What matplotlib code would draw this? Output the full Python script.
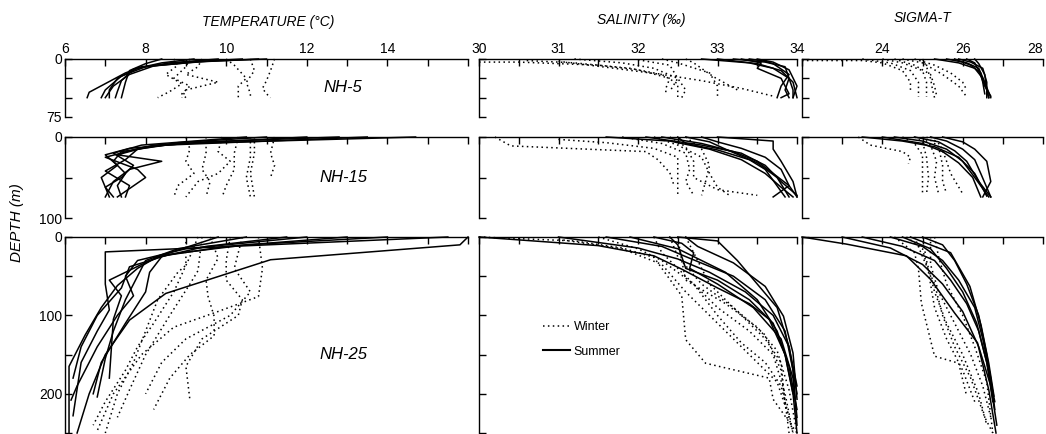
import matplotlib.pyplot as plt
from matplotlib.lines import Line2D

plt.rcParams['font.family'] = ['Liberation Sans', 'DejaVu Sans']

# each profile is a list of (value, depth in m)
# ---- temperature ----
temp_nh5_summer = [
    [(11.0, 0), (9.5, 3), (7.9, 10), (7.5, 18), (6.6, 43), (6.55, 50)],
    [(10.4, 0), (9.0, 4), (8.0, 10), (7.4, 22), (7.0, 40), (6.9, 50)],
    [(9.8, 0), (8.6, 5), (7.8, 12), (7.3, 25), (7.1, 40), (7.1, 50)],
    [(9.2, 0), (8.4, 5), (7.7, 13), (7.4, 28), (7.3, 42), (7.25, 50)],
    [(8.4, 0), (8.0, 6), (7.6, 15), (7.5, 30), (7.4, 50)],
    [(10.8, 0), (9.2, 4), (8.2, 9), (7.6, 20), (7.2, 35), (7.0, 50)],
]
temp_nh5_winter = [
    [(8.7, 0), (8.8, 8), (8.5, 20), (8.9, 32), (8.6, 42), (8.3, 50)],
    [(9.1, 0), (9.0, 10), (8.7, 25), (9.1, 35), (8.9, 45), (9.0, 50)],
    [(9.4, 0), (9.3, 10), (9.0, 20), (9.8, 30), (9.0, 40), (8.9, 50)],
    [(10.0, 0), (10.2, 8), (10.5, 25), (10.3, 35), (10.3, 50)],
    [(10.6, 0), (10.7, 15), (10.5, 30), (10.6, 45), (10.6, 50)],
    [(11.2, 0), (11.1, 15), (11.0, 28), (10.9, 38), (11.0, 45), (11.1, 50)],
]
temp_nh15_summer = [
    [(14.7, 0), (9.0, 8), (7.6, 14), (7.0, 22), (7.3, 35), (6.9, 50), (7.1, 74)],
    [(13.5, 0), (8.5, 10), (7.4, 18), (7.2, 30), (7.5, 45), (7.3, 60), (7.4, 74)],
    [(12.0, 0), (8.2, 10), (7.3, 22), (8.4, 30), (7.6, 40), (7.2, 55), (7.0, 74)],
    [(11.0, 0), (8.8, 7), (7.8, 15), (7.5, 28), (7.0, 42), (7.6, 60), (7.5, 74)],
    [(10.5, 0), (7.9, 10), (7.2, 20), (7.7, 35), (7.4, 50), (7.0, 62), (7.2, 74)],
    [(12.8, 0), (9.5, 6), (8.0, 12), (7.0, 25), (7.8, 40), (8.0, 50), (7.3, 74)],
]
temp_nh15_winter = [
    [(9.0, 0), (9.1, 15), (9.0, 30), (9.2, 45), (8.8, 60), (8.7, 74)],
    [(9.5, 0), (9.5, 20), (9.4, 40), (9.6, 55), (9.5, 74)],
    [(9.9, 0), (9.8, 18), (10.1, 30), (9.8, 45), (9.3, 55), (9.0, 74)],
    [(10.3, 0), (10.2, 20), (10.2, 40), (10.0, 60), (9.9, 74)],
    [(10.7, 0), (10.7, 20), (10.6, 45), (10.7, 74)],
    [(11.2, 0), (11.1, 20), (11.2, 35), (11.1, 50)],
    [(10.6, 0), (10.6, 25), (10.5, 50), (10.6, 74)],
]
temp_nh25_summer = [
    [(16.0, 0), (15.8, 10), (11.1, 29), (8.8, 67), (8.5, 72), (7.6, 106), (7.0, 150), (6.6, 200), (6.3, 250)],
    [(15.5, 0), (7.0, 19), (7.0, 60), (7.1, 93), (6.8, 120), (6.4, 160), (6.2, 228)],
    [(12.0, 0), (9.0, 15), (7.8, 30), (7.5, 50), (7.7, 75), (7.3, 100), (6.8, 140), (6.3, 190), (6.15, 208)],
    [(13.0, 0), (10.0, 12), (8.3, 25), (7.8, 40), (7.3, 62), (6.9, 90), (6.5, 125), (6.1, 165), (6.1, 250)],
    [(11.5, 0), (9.5, 12), (8.4, 25), (8.1, 45), (8.0, 70), (7.5, 110), (6.9, 160), (6.7, 200)],
    [(10.5, 0), (8.8, 15), (8.0, 30), (7.8, 50), (7.5, 80), (7.2, 120), (7.0, 155), (6.8, 204)],
    [(14.0, 0), (10.5, 10), (8.6, 22), (7.6, 38), (7.4, 65), (6.8, 100), (6.4, 140), (6.2, 180)],
    [(9.8, 0), (8.6, 20), (7.9, 35), (7.1, 55), (7.4, 75), (7.2, 105), (7.1, 180)],
]
temp_nh25_winter = [
    [(9.0, 0), (9.0, 36), (8.8, 45), (8.3, 80), (8.0, 120), (7.7, 160), (7.3, 200), (7.0, 250)],
    [(9.4, 0), (9.3, 43), (9.1, 60), (8.6, 100), (8.0, 150), (7.6, 195), (7.3, 230)],
    [(9.6, 0), (9.8, 27), (9.5, 55), (9.55, 76), (9.7, 101), (9.7, 126), (9.1, 150), (8.6, 180), (8.2, 220)],
    [(10.1, 0), (10.0, 30), (10.0, 55), (10.4, 80), (10.3, 100), (9.4, 130), (9.0, 165), (9.1, 208)],
    [(10.8, 0), (10.9, 40), (10.8, 76), (9.8, 95), (8.7, 115), (7.9, 150), (7.2, 200), (6.8, 247)],
    [(9.3, 0), (9.1, 25), (8.7, 70), (8.2, 110), (7.8, 140), (7.5, 170), (7.0, 210), (6.7, 240)],
    [(10.4, 0), (10.3, 20), (10.2, 40), (10.6, 70), (10.1, 100), (9.0, 130), (8.4, 160), (8.0, 200)],
]

# ---- salinity ----
sal_nh5_summer = [
    [(32.8, 0), (33.4, 5), (33.7, 12), (33.9, 25), (33.95, 40), (33.95, 50)],
    [(33.0, 0), (33.5, 6), (33.8, 15), (33.95, 30), (34.0, 50)],
    [(33.2, 0), (33.6, 4), (33.85, 10), (33.9, 25), (33.85, 40), (33.9, 50)],
    [(33.3, 0), (33.55, 5), (33.5, 12), (33.8, 25), (33.9, 45), (33.8, 50)],
    [(33.5, 0), (33.7, 4), (33.9, 14), (34.0, 35), (33.95, 50)],
    [(33.4, 0), (33.6, 3), (33.7, 6), (33.9, 20), (33.8, 35), (33.75, 50)],
]
sal_nh5_winter = [
    [(30.0, 4), (30.5, 4), (31.5, 8), (32.0, 14), (32.4, 25), (32.35, 38), (32.35, 46)],
    [(30.6, 2), (31.2, 5), (31.9, 12), (32.3, 20), (32.5, 32), (32.5, 50)],
    [(31.2, 0), (31.8, 5), (32.2, 12), (32.5, 25), (32.6, 40), (32.55, 50)],
    [(31.0, 3), (31.7, 12), (32.3, 20), (32.8, 28), (33.3, 38), (33.7, 48)],
    [(32.3, 0), (32.5, 5), (32.9, 18), (33.0, 35), (33.0, 48)],
    [(32.0, 1), (32.4, 8), (32.5, 25), (32.4, 42)],
    [(32.6, 0), (32.7, 5), (32.95, 23), (33.25, 40)],
]
sal_nh15_summer = [
    [(32.3, 0), (32.8, 8), (33.2, 18), (33.5, 30), (33.7, 45), (33.9, 60), (34.0, 74)],
    [(31.6, 0), (32.4, 5), (32.9, 15), (33.3, 28), (33.6, 45), (33.8, 62), (33.95, 74)],
    [(32.6, 0), (32.9, 6), (33.1, 15), (33.5, 32), (33.75, 50), (33.9, 74)],
    [(32.5, 0), (32.6, 8), (33.0, 16), (33.4, 28), (33.6, 40), (33.85, 74)],
    [(33.0, 0), (33.7, 5), (33.7, 15), (33.8, 30), (33.95, 55), (34.0, 74)],
    [(32.8, 0), (33.0, 6), (33.3, 14), (33.6, 25), (33.8, 40), (33.9, 60), (33.7, 74)],
    [(32.1, 0), (32.8, 10), (33.3, 20), (33.6, 35), (33.8, 55), (34.0, 72)],
]
sal_nh15_winter = [
    [(30.2, 0), (30.4, 11), (31.6, 16), (32.1, 18), (32.25, 28), (32.4, 44), (32.45, 59)],
    [(31.0, 3), (31.6, 7), (32.2, 14), (32.5, 25), (32.5, 45), (32.5, 72)],
    [(31.8, 0), (32.3, 8), (32.6, 20), (32.65, 40), (32.6, 55), (32.7, 72)],
    [(32.2, 0), (32.5, 10), (32.8, 25), (32.9, 45), (33.0, 62), (33.15, 72)],
    [(32.4, 0), (32.6, 12), (32.7, 30), (32.7, 50), (33.0, 65), (33.5, 72)],
    [(32.6, 0), (32.8, 15), (32.9, 35), (32.85, 55), (32.8, 72)],
]
sal_nh25_summer = [
    [(30.0, 0), (31.5, 11), (32.2, 24), (32.55, 41), (33.0, 65), (33.4, 85), (33.65, 105), (33.85, 150), (33.95, 200), (34.0, 250)],
    [(32.6, 0), (32.75, 12), (33.2, 33), (33.6, 63), (33.83, 101), (33.95, 148), (34.0, 207)],
    [(32.5, 0), (33.0, 5), (33.25, 30), (33.5, 60), (33.75, 90), (33.9, 140), (34.0, 190)],
    [(31.9, 0), (32.5, 15), (32.8, 30), (33.1, 45), (33.5, 80), (33.75, 120), (33.9, 165), (34.0, 220)],
    [(32.4, 0), (32.5, 10), (32.6, 40), (33.0, 55), (33.4, 80), (33.7, 110), (33.85, 150), (33.95, 200)],
    [(31.6, 0), (32.3, 12), (32.6, 25), (33.2, 50), (33.6, 80), (33.85, 120), (33.95, 170), (34.0, 240)],
    [(32.2, 0), (32.55, 8), (32.7, 20), (32.65, 40), (33.0, 60), (33.45, 90), (33.8, 130), (33.95, 180), (34.0, 230)],
    [(31.0, 0), (32.0, 14), (32.5, 28), (32.9, 45), (33.35, 70), (33.7, 100), (33.9, 140), (34.0, 200)],
]
sal_nh25_winter = [
    [(30.0, 0), (31.2, 5), (31.8, 14), (32.2, 26), (32.55, 75), (32.6, 131), (32.85, 161), (33.65, 180), (33.7, 207), (34.0, 250)],
    [(31.5, 0), (32.0, 15), (32.3, 30), (32.7, 60), (33.0, 100), (33.3, 135), (33.6, 160), (33.8, 190), (33.95, 250)],
    [(32.2, 0), (32.3, 20), (32.6, 50), (33.0, 90), (33.4, 120), (33.7, 150), (33.85, 200), (33.95, 250)],
    [(32.4, 0), (32.5, 25), (32.8, 60), (33.2, 90), (33.6, 125), (33.8, 170), (33.9, 250)],
    [(32.5, 0), (32.55, 30), (32.6, 55), (33.1, 85), (33.5, 115), (33.75, 145), (33.9, 195), (34.0, 250)],
    [(31.0, 3), (31.8, 15), (32.3, 35), (32.6, 70), (33.0, 110), (33.4, 150), (33.75, 185), (33.9, 230)],
    [(32.6, 0), (32.7, 20), (32.9, 60), (33.3, 100), (33.6, 130), (33.8, 160), (33.85, 215)],
]

# ---- sigma-t ----
sig_nh5_summer = [
    [(25.3, 0), (25.9, 5), (26.3, 12), (26.5, 25), (26.6, 40), (26.65, 50)],
    [(25.6, 0), (26.1, 5), (26.4, 12), (26.55, 30), (26.7, 50)],
    [(25.9, 0), (26.2, 4), (26.5, 12), (26.6, 30), (26.6, 50)],
    [(26.1, 0), (26.3, 5), (26.4, 15), (26.55, 35), (26.7, 48)],
    [(26.3, 0), (26.4, 6), (26.55, 20), (26.6, 40), (26.65, 50)],
    [(25.8, 0), (26.2, 8), (26.45, 18), (26.5, 30), (26.55, 45)],
]
sig_nh5_winter = [
    [(22.0, 2), (23.5, 2), (24.0, 5), (24.5, 15), (24.7, 30), (24.7, 43)],
    [(23.5, 0), (24.2, 5), (24.7, 15), (24.9, 30), (24.9, 49)],
    [(24.0, 0), (24.5, 5), (25.0, 15), (25.1, 30), (25.1, 49)],
    [(24.3, 0), (24.8, 8), (25.2, 20), (25.3, 35), (25.35, 47)],
    [(24.5, 0), (25.0, 5), (25.5, 20), (25.9, 35), (26.1, 49)],
    [(25.0, 0), (25.1, 10), (25.2, 25), (25.25, 40), (25.3, 50)],
    [(24.8, 0), (25.3, 8), (25.7, 18), (26.0, 30), (26.1, 40)],
]
sig_nh15_summer = [
    [(23.5, 0), (24.5, 5), (25.3, 12), (25.9, 25), (26.3, 45), (26.6, 73)],
    [(24.3, 0), (25.0, 5), (25.6, 15), (26.0, 30), (26.3, 50), (26.65, 74)],
    [(24.8, 0), (25.4, 6), (25.8, 17), (26.1, 30), (26.4, 55), (26.7, 74)],
    [(25.2, 0), (25.6, 5), (26.0, 15), (26.3, 28), (26.45, 45), (26.7, 74)],
    [(25.5, 0), (26.0, 6), (26.3, 15), (26.6, 30), (26.7, 55), (26.5, 74)],
    [(24.0, 0), (25.0, 8), (25.5, 18), (25.9, 32), (26.25, 50), (26.45, 74)],
]
sig_nh15_winter = [
    [(23.4, 0), (23.7, 10), (24.5, 18), (24.7, 25), (24.65, 33)],
    [(24.5, 0), (24.8, 8), (25.0, 22), (25.0, 45), (25.0, 70)],
    [(24.8, 0), (25.0, 6), (25.1, 25), (25.15, 50), (25.1, 70)],
    [(25.0, 0), (25.2, 10), (25.35, 30), (25.3, 50), (25.4, 70)],
    [(25.1, 0), (25.4, 12), (25.5, 35), (25.5, 55), (25.6, 70)],
    [(25.2, 0), (25.45, 10), (25.6, 30), (25.7, 45), (26.0, 70)],
]
sig_nh25_summer = [
    [(22.0, 0), (23.1, 9), (24.6, 24), (25.2, 54), (25.8, 97), (26.37, 135), (26.65, 195), (26.83, 250)],
    [(24.7, 0), (25.7, 20), (26.18, 63), (26.46, 113), (26.65, 161), (26.78, 203)],
    [(23.5, 0), (24.5, 12), (25.3, 30), (25.7, 55), (26.1, 85), (26.4, 120), (26.6, 160), (26.75, 210)],
    [(24.2, 0), (25.0, 12), (25.5, 30), (25.9, 55), (26.3, 90), (26.5, 130), (26.7, 180), (26.8, 220)],
    [(25.0, 0), (25.5, 10), (25.8, 30), (26.1, 60), (26.4, 100), (26.6, 150), (26.75, 200)],
    [(24.5, 0), (25.2, 15), (25.6, 40), (26.0, 70), (26.35, 110), (26.6, 160), (26.8, 210)],
    [(23.0, 0), (24.2, 14), (25.0, 35), (25.5, 60), (26.0, 95), (26.4, 140), (26.7, 190), (26.85, 240)],
]
sig_nh25_winter = [
    [(24.3, 0), (24.8, 20), (24.9, 41), (24.97, 84), (25.3, 152), (25.9, 161), (26.1, 203)],
    [(24.8, 0), (25.0, 25), (25.3, 60), (25.5, 100), (25.8, 140), (26.2, 180), (26.55, 230), (26.75, 250)],
    [(25.0, 0), (25.1, 30), (25.3, 70), (25.6, 110), (26.0, 150), (26.4, 200), (26.6, 240)],
    [(25.2, 0), (25.2, 35), (25.4, 70), (25.8, 110), (26.2, 150), (26.5, 190), (26.7, 230)],
    [(24.6, 0), (25.0, 15), (25.15, 45), (25.3, 90), (25.6, 130), (26.0, 170), (26.3, 210)],
    [(25.3, 0), (25.4, 25), (25.6, 60), (26.0, 100), (26.3, 140), (26.6, 185), (26.75, 250)],
]

stations = ['NH-5', 'NH-15', 'NH-25']
max_depth = [75, 100, 250]
depth_ticks = [[0, 25, 50, 75], [0, 50, 100], [0, 50, 100, 150, 200, 250]]
depth_labels = [['0', '', '', '75'], ['0', '', '100'], ['0', '', '100', '', '200', '']]

temp_ticks = list(range(6, 17))
temp_labels = [str(t) if t % 2 == 0 and t < 16 else '' for t in temp_ticks]
sal_ticks = [30 + 0.5 * i for i in range(9)]
sal_labels = [str(int(s)) if s == int(s) else '' for s in sal_ticks]
sig_ticks = list(range(22, 29))
sig_labels = [str(s) if s in (24, 26, 28) else '' for s in sig_ticks]

panels = [
    [(temp_nh5_summer, temp_nh5_winter), (sal_nh5_summer, sal_nh5_winter), (sig_nh5_summer, sig_nh5_winter)],
    [(temp_nh15_summer, temp_nh15_winter), (sal_nh15_summer, sal_nh15_winter), (sig_nh15_summer, sig_nh15_winter)],
    [(temp_nh25_summer, temp_nh25_winter), (sal_nh25_summer, sal_nh25_winter), (sig_nh25_summer, sig_nh25_winter)],
]

W, H = 1046, 434
fig = plt.figure(figsize=(W / 100, H / 100), dpi=100)

# pixel extents of columns and rows
cols = [(65, 468, (6, 16), temp_ticks, temp_labels),
        (479, 797, (30, 34), sal_ticks, sal_labels),
        (802, 1043, (22, 28), sig_ticks, sig_labels)]
rows = [(59, 117), (137, 218), (237, 433)]

DOT = (0, (1, 2.2))
axes = {}
for r, (top, bot) in enumerate(rows):
    for c, (left, right, xlim, xt, xl) in enumerate(cols):
        ax = fig.add_axes([left / W, 1 - bot / H, (right - left) / W, (bot - top) / H])
        summer, winter = panels[r][c]
        for prof in winter:
            v, d = zip(*prof)
            ax.plot(v, d, color='black', lw=1.1, ls=DOT, clip_on=False)
        for prof in summer:
            v, d = zip(*prof)
            ax.plot(v, d, color='black', lw=1.1, clip_on=False)
        ax.set_xlim(*xlim)
        ax.set_ylim(max_depth[r], 0)
        for s in ['right', 'bottom']:
            ax.spines[s].set_visible(False)
        for s in ['left', 'top']:
            ax.spines[s].set_linewidth(1.0)
        ax.set_xticks(xt)
        ax.set_xticklabels(xl if r == 0 else [''] * len(xt))
        ax.set_yticks(depth_ticks[r])
        ax.set_yticklabels(depth_labels[r] if c == 0 else [''] * len(depth_ticks[r]))
        ax.tick_params(direction='in', length=5, width=1.0, top=True, bottom=False,
                       labeltop=True, labelbottom=False, left=True, right=False,
                       labelsize=10, pad=2)
        ax.patch.set_alpha(0)
        axes[(r, c)] = ax
    axes[(r, 0)].text(0.69, 0.5 if r < 2 else 0.4, stations[r], transform=axes[(r, 0)].transAxes,
                      fontsize=12, style='italic', ha='center', va='center')

# keep the last sigma-t label inside the figure
axes[(0, 2)].get_xticklabels()[-1].set_horizontalalignment('right')

fig.text(268 / W, 1 - 22 / H, 'TEMPERATURE (°C)', fontsize=10, style='italic', ha='center', va='center')
fig.text(641 / W, 1 - 20 / H, 'SALINITY (‰)', fontsize=10, style='italic', ha='center', va='center')
fig.text(922 / W, 1 - 18 / H, 'SIGMA-T', fontsize=10, style='italic', ha='center', va='center')
fig.text(17 / W, 1 - 223 / H, 'DEPTH (m)', fontsize=11, style='italic', rotation=90,
         ha='center', va='center')

handles = [Line2D([], [], color='black', lw=1.1, ls=DOT),
           Line2D([], [], color='black', lw=1.5)]
axes[(2, 1)].legend(handles, ['Winter', 'Summer'], loc='upper left', bbox_to_anchor=(0.2, 0.57),
                    frameon=False, fontsize=9, handlelength=2.2, handletextpad=0.3,
                    labelspacing=1.0, borderpad=0, borderaxespad=0)

fig.savefig('out.png', dpi=100)
